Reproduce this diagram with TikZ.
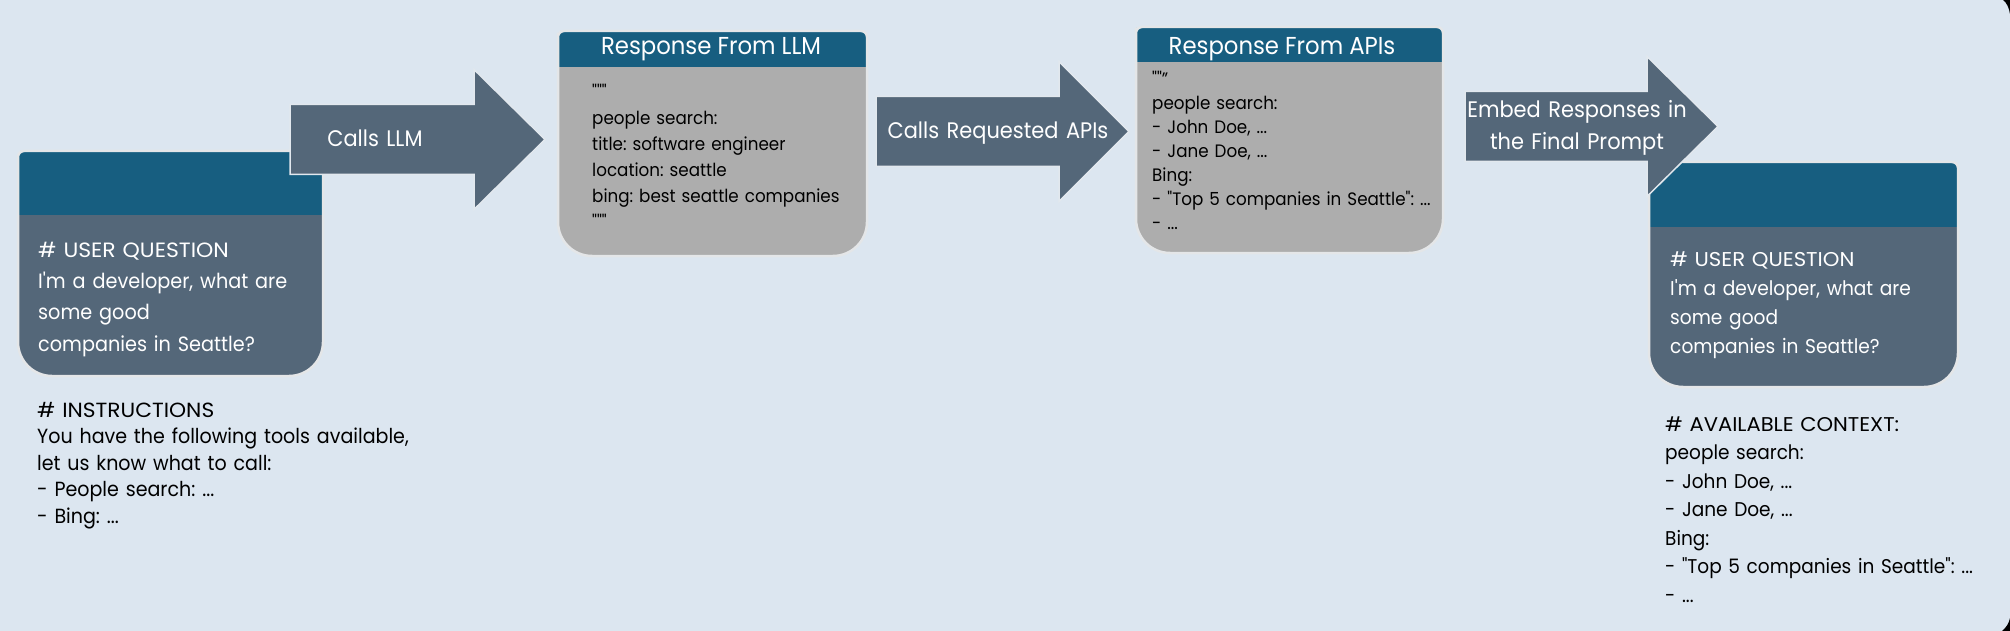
\documentclass[tikz,border=0pt]{standalone}
\usepackage{fontspec}
\setmainfont{Poppins}[FakeStretch=0.93]
\newfontfamily\qfont{Poppins}[FakeStretch=0.93]
\newfontfamily\capsfont{Poppins}[FakeStretch=1.06]
\definecolor{bg}{HTML}{DCE6F0}
\definecolor{hdr}{HTML}{175E80}
\definecolor{slate}{HTML}{546779}
\definecolor{greybody}{HTML}{ADADAD}
\definecolor{boxedge}{HTML}{E4E6E8}
\definecolor{arrowedge}{HTML}{E2E8EE}
\newcommand\dq{{\qfont\symbol{34}}}
\newcommand\sq{{\qfont\symbol{39}}}
\newcommand\capsline[1]{{\capsfont #1}}
\newcommand\promptbox[6]{%
  \begin{scope}
    \clip (#1,#4) [rounded corners=6pt] -- (#1,#2) -- (#3,#2) -- (#3,#4)
      [rounded corners=34pt] -- (#3,#5) -- (#1,#5) -- (#1,#4) -- cycle;
    \fill[#6] (#1,#2) rectangle (#3,#5);
    \fill[hdr] (#1,#2) rectangle (#3,#4);
  \end{scope}
  \draw[boxedge, line width=2.5pt] (#1,#4) [rounded corners=6pt] -- (#1,#2) -- (#3,#2) -- (#3,#4)
      [rounded corners=34pt] -- (#3,#5) -- (#1,#5) -- (#1,#4) -- cycle;
}
\newcommand\blockarrow[4]{%
  \draw[arrowshape] (#1,#4-35) -- (#2,#4-35) -- (#2,#4-70) -- (#3,#4) -- (#2,#4+70)
    -- (#2,#4+35) -- (#1,#4+35) -- cycle;
}
\tikzset{
  lbl/.style={inner sep=0pt, anchor=base west, align=left, text width=420pt},
  wt/.style={lbl, text=white},
  bt/.style={lbl, text=black},
  atext/.style={inner sep=0pt, anchor=base, text=white, align=center, text width=300pt,
    font=\fontsize{22.5}{32}\selectfont},
  ttl/.style={inner sep=0pt, anchor=base, text=white, font=\fontsize{24.5}{27}\selectfont},
  arrowshape/.style={fill=slate, draw=arrowedge, line width=1.5pt, line join=miter}
}
\begin{document}
\frenchspacing
\begin{tikzpicture}[x=1pt,y=-1pt]
\useasboundingbox (0,0) rectangle (2010,631);
\fill[bg] (0,0) rectangle (2010,631);
\fill[black] (2003,0) .. controls (2007,3) and (2009,8) .. (2010,14) -- (2010,0) -- cycle;
\fill[black] (2002,631) .. controls (2006,628) and (2009,623) .. (2010,618) -- (2010,631) -- cycle;

% boxes
\promptbox{18}{151}{323}{215}{376}{slate}
\promptbox{558}{31}{867}{67}{256}{greybody}
\promptbox{1136}{27}{1443}{62}{253}{greybody}
\promptbox{1649}{162}{1958}{227}{387}{slate}

% block arrows
\blockarrow{290}{474}{545}{139.5}
\blockarrow{876}{1059}{1129}{131.5}
\blockarrow{1465}{1647}{1718}{126.5}

% titles
\node[ttl] (t1) at (711,55) {Response From LLM};
\node[ttl] (t2) at (1282,55) {Response From APIs};

% arrow labels
\node[atext] (a1) at (375,147) {Calls LLM};
\node[atext] (a2) at (998,139) {Calls Requested APIs};
\node[atext] (a3) at (1577,118) {Embed Responses in\\the Final Prompt};

% texts
\node[wt, font=\fontsize{20.7}{31.5}\selectfont] (q1) at (38,257)
  {\capsline{\# USER QUESTION}\\I\sq m a developer, what are\\some good\\companies in Seattle?};
\node[bt, font=\fontsize{20.5}{26.5}\selectfont] (ins) at (37,417)
  {\capsline{\# INSTRUCTIONS}\\You have the following tools available,\\let us know what to call:\\- People search: ...\\- Bing: ...};
\node[bt, font=\fontsize{18}{26}\selectfont] (llm) at (592,99)
  {\dq\dq\dq\\people search:\\title: software engineer\\location: seattle\\bing: best seattle companies\\\dq\dq\dq};
\node[bt, font=\fontsize{18}{24}\selectfont] (api) at (1152,86)
  {\dq\dq”\\people search:\\- John Doe, ...\\- Jane Doe, ...\\Bing:\\- \dq Top 5 companies in Seattle\dq: ...\\- ...};
\node[wt, font=\fontsize{20}{29}\selectfont] (q2) at (1670,266)
  {\capsline{\# USER QUESTION}\\I\sq m a developer, what are\\some good\\companies in Seattle?};
\node[bt, font=\fontsize{19.9}{28.5}\selectfont] (ctx) at (1665,431)
  {\capsline{\# AVAILABLE CONTEXT:}\\people search:\\- John Doe, ...\\- Jane Doe, ...\\Bing:\\- \dq Top 5 companies in Seattle\dq: ...\\- ...};
\end{tikzpicture}
\end{document}
